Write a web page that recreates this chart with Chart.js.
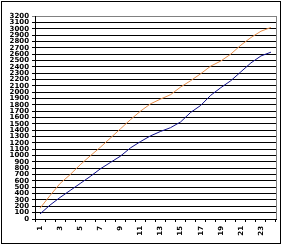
<!DOCTYPE html>
<html>
<head>
<meta charset="utf-8">
<script src="https://cdn.jsdelivr.net/npm/chart.js@4/dist/chart.umd.min.js"></script>
<style>
  html, body { margin: 0; padding: 0; background: #fff; }
  #caja { width: 285px; height: 249px; }
</style>
</head>
<body>
<div id="caja"><canvas id="grafico" width="285" height="249"></canvas></div>
<script>
// categorias del eje x (1..24)
const categorias = [];
for (let i = 1; i <= 24; i++) categorias.push(String(i));

// serie azul (inferior) y serie naranja (superior)
const serieAzul = [80, 220, 340, 450, 560, 670, 790, 890, 990, 1120, 1220, 1310,
                   1380, 1440, 1530, 1680, 1790, 1950, 2070, 2180, 2320, 2460, 2570, 2630];
const serieNaranja = [170, 370, 560, 700, 855, 995, 1130, 1275, 1420, 1565, 1700, 1815,
                      1890, 1960, 2080, 2180, 2290, 2410, 2490, 2600, 2740, 2860, 2960, 3020];

// marcas del eje y
const ejeYMin = 0;
const ejeYMax = 3200;
const ejeYPaso = 100;

// colores
const colorAzul = '#10108c';
const colorNaranja = '#e8904c';

// plugin para el fondo, el marco exterior y el borde gris del area de trazado
const marco = {
    id: 'marco',
    beforeDraw(chart) {
        const c = chart.ctx;
        c.save();
        c.fillStyle = '#fff';
        c.fillRect(0, 0, chart.width, chart.height);
        c.restore();
    },
    afterDraw(chart) {
        const c = chart.ctx;
        const a = chart.chartArea;
        c.save();
        c.strokeStyle = '#000';
        c.lineWidth = 1;
        c.strokeRect(1.5, 1.5, 279, 242);
        c.strokeStyle = '#808080';
        c.beginPath();
        c.moveTo(Math.round(a.right) + 0.5, Math.round(a.top));
        c.lineTo(Math.round(a.right) + 0.5, Math.round(a.bottom));
        c.stroke();
        c.restore();
    }
};

const fuente = { family: 'DejaVu Sans', size: 7, weight: 'bold' };

new Chart(document.getElementById('grafico'), {
    type: 'line',
    data: {
        labels: categorias,
        datasets: [
            {
                data: serieAzul,
                borderColor: colorAzul,
                borderWidth: 1,
                pointRadius: 0,
                tension: 0,
                fill: false
            },
            {
                data: serieNaranja,
                borderColor: colorNaranja,
                borderWidth: 1,
                pointRadius: 0,
                tension: 0,
                fill: false
            }
        ]
    },
    options: {
        responsive: false,
        animation: false,
        layout: { padding: { left: 0, top: 16, right: 9, bottom: 6 } },
        plugins: {
            legend: { display: false },
            tooltip: { enabled: false }
        },
        scales: {
            x: {
                offset: true,
                grid: {
                    offset: true,
                    drawOnChartArea: false,
                    drawTicks: true,
                    tickLength: 3,
                    color: '#000'
                },
                border: { color: '#000' },
                ticks: {
                    autoSkip: false,
                    minRotation: 90,
                    maxRotation: 90,
                    padding: 4,
                    color: '#000',
                    font: fuente,
                    callback: function(valor, indice) {
                        return indice % 2 === 0 ? categorias[indice] : '';
                    }
                },
                afterFit: function(escala) { escala.height = 24; }
            },
            y: {
                min: ejeYMin,
                max: ejeYMax,
                grid: {
                    color: ctx => (ctx.tick && ctx.tick.value === ejeYMax) ? '#808080' : '#000',
                    tickLength: 3
                },
                border: { color: '#000' },
                ticks: {
                    stepSize: ejeYPaso,
                    autoSkip: false,
                    padding: 3,
                    color: '#000',
                    font: fuente,
                    callback: valor => String(valor)
                },
                afterFit: function(escala) { escala.width = 35; }
            }
        }
    },
    plugins: [marco]
});
</script>
</body>
</html>
